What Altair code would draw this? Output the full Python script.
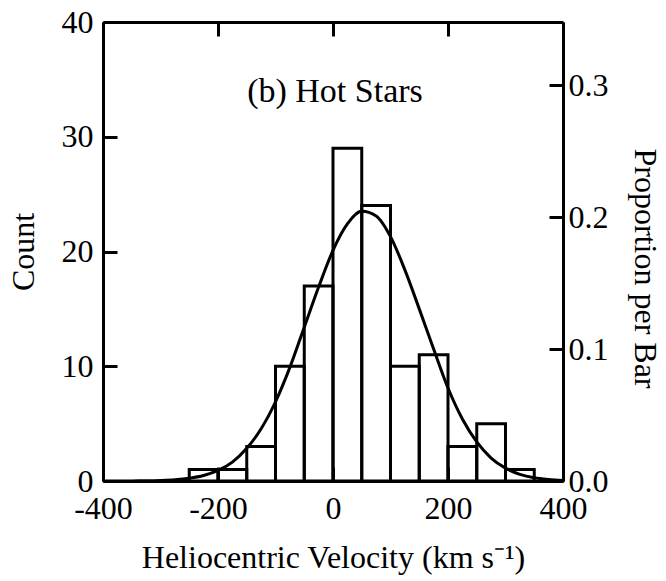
import altair as alt
import pandas as pd

# Histogram bins (km/s) and counts
bin_lo = [-250, -200, -150, -100, -50, 0, 50, 100, 150, 200, 250, 300]
bin_hi = [-200, -150, -100, -50, 0, 50, 100, 150, 200, 250, 300, 350]
counts = [1, 1, 3, 10, 17, 29, 24, 10, 11, 3, 5, 1]

# Fitted curve (count units)
curve_v = [-400, -375, -350, -325, -300, -275, -250, -225, -200, -175, -150,
           -125, -100, -75, -50, -25, 0, 25, 50, 75, 100, 125, 150, 175, 200,
           225, 250, 275, 300, 325, 350, 375, 400]
curve_c = [0.0, 0.0, 0.01, 0.02, 0.05, 0.11, 0.24, 0.48, 0.92, 1.65, 2.85,
           4.55, 6.9, 9.9, 13.4, 16.9, 20.1, 22.4, 23.5, 23.1, 21.3, 18.4,
           15.0, 11.5, 8.1, 5.4, 3.4, 2.0, 1.12, 0.58, 0.28, 0.13, 0.05]

x_ticks = [-400, -200, 0, 200, 400]
y_ticks = [0, 10, 20, 30, 40]
p_ticks = [0.0, 0.1, 0.2, 0.3]
panel_label = "(b) Hot Stars"

bars_df = pd.DataFrame({"lo": bin_lo, "hi": bin_hi, "count": counts})
curve_df = pd.DataFrame({"v": curve_v, "c": curve_c})
total = sum(counts)

FONT = "Liberation Serif"
TS = 14
xscale = alt.Scale(domain=[-400, 400], nice=False, zero=False)
yscale = alt.Scale(domain=[0, 40], nice=False, zero=True)
pscale = alt.Scale(domain=[0, 40 / total], nice=False, zero=True)
TICK = {"expr": str(-TS)}

common = dict(domainColor="black", domainWidth=3, tickColor="black",
              tickWidth=3, tickSize=TICK, labelFont=FONT, labelFontSize=32,
              labelColor="black", titleFont=FONT, titleFontSize=32,
              titleFontWeight="normal", titleColor="black", grid=False,
              labelFlush=False, labelOverlap=False)

bottom_axis = alt.Axis(orient="bottom", values=x_ticks,
                       labelExpr="'' + datum.value",
                       title="Heliocentric Velocity (km s\u207b\u00b9)",
                       labelPadding=12 + TS, titlePadding=18, **common)
top_axis = alt.Axis(orient="top", values=x_ticks, labels=False, title="",
                    **common)
left_axis = alt.Axis(orient="left", values=y_ticks,
                     labelExpr="'' + datum.value", title="Count",
                     labelPadding=10 + TS, titlePadding=21, **common)
right_axis = alt.Axis(orient="right", values=p_ticks, format=".1f",
                      title="Proportion per Bar", labelPadding=5 + TS,
                      titlePadding=19, titleY=246, **common)

bars = alt.Chart(bars_df).mark_rect(
    fillOpacity=0, stroke="black", strokeWidth=3
).encode(
    x=alt.X("lo:Q", scale=xscale, axis=bottom_axis),
    x2="hi:Q",
    y=alt.Y("count:Q", scale=yscale, axis=left_axis),
    y2=alt.datum(0),
)

curve = alt.Chart(curve_df).mark_line(
    color="black", strokeWidth=3, interpolate="monotone"
).encode(
    x=alt.X("v:Q", scale=xscale, axis=None),
    y=alt.Y("c:Q", scale=yscale, axis=None),
)

label = alt.Chart(pd.DataFrame({"t": [panel_label]})).mark_text(
    font=FONT, fontSize=34, color="black", align="center", baseline="alphabetic"
).encode(
    text="t:N", x=alt.value(232), y=alt.value(80)
)

right = alt.Chart(bars_df).transform_joinaggregate(
    total="sum(count)"
).transform_calculate(
    prop="datum.count / datum.total"
).mark_rect(opacity=0).encode(
    x=alt.X("lo:Q", scale=xscale, axis=top_axis),
    x2="hi:Q",
    y=alt.Y("prop:Q", scale=pscale, axis=right_axis),
    y2=alt.datum(0),
)

chart = alt.layer(bars, curve, right, label).resolve_scale(
    y="independent"
).resolve_axis(
    x="independent", y="independent"
).properties(
    width=460, height=459,
    padding={"left": 103, "top": 22, "right": 103, "bottom": 100},
    autosize=alt.AutoSizeParams(type="none"),
    background="white",
).configure_view(strokeWidth=0)

chart.save("out.html", embed_options={"renderer": "svg", "actions": False})
